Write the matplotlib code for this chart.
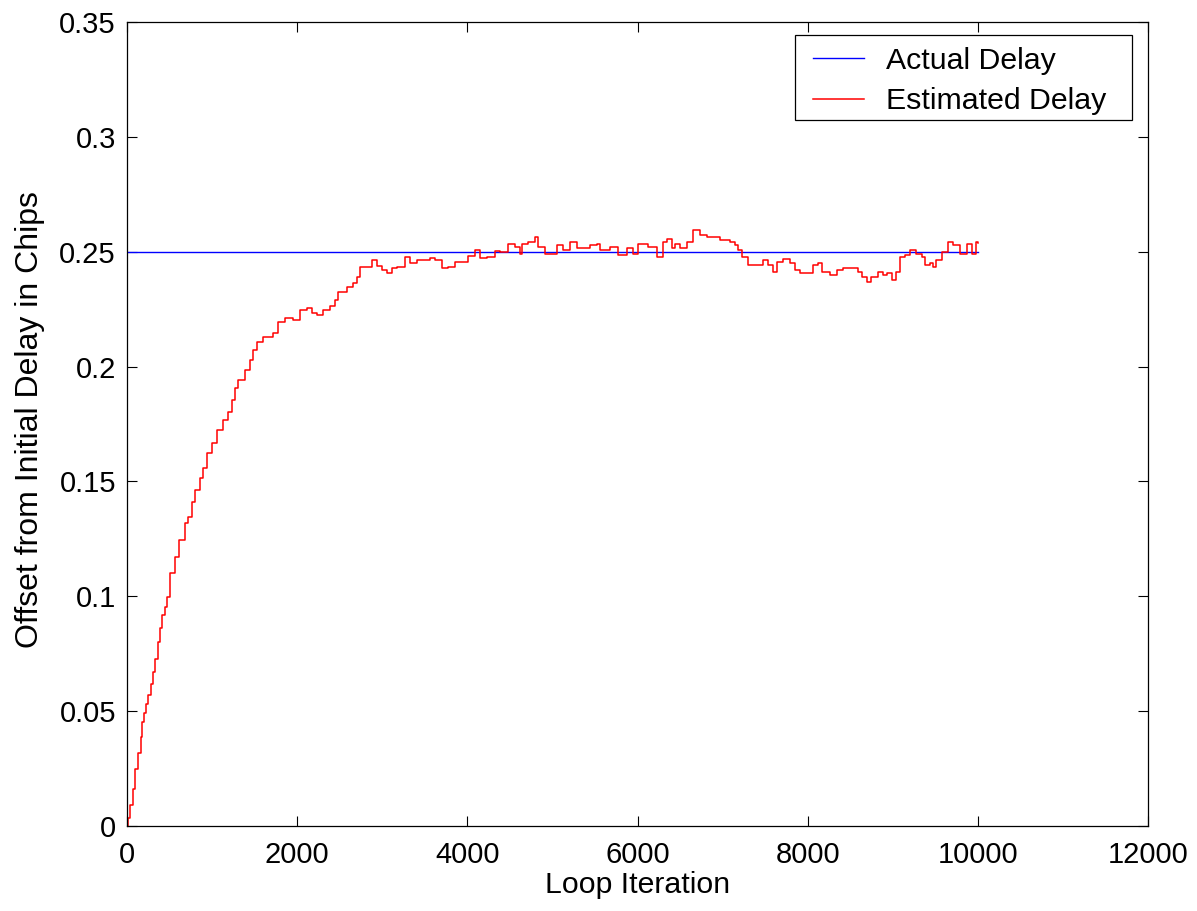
import matplotlib
matplotlib.use("Agg")
import matplotlib.pyplot as plt
from matplotlib.patches import Rectangle

plt.rcParams['font.family'] = ['Liberation Sans', 'DejaVu Sans']

# Tracking loop output: iteration index and estimated delay offset (chips)
iterations = [
    0, 15, 35, 74, 94, 133, 161, 172, 200, 223, 250, 278, 309, 329, 368, 388, 408, 447,
    466, 505, 564, 615, 682, 721, 760, 799, 858, 889, 936, 995, 1054, 1132, 1191, 1230,
    1269, 1308, 1387, 1445, 1477, 1524, 1602, 1650, 1719, 1778, 1857, 1954, 2033, 2111,
    2170, 2229, 2307, 2385, 2444, 2483, 2581, 2659, 2699, 2738, 2816, 2882, 2934, 2993,
    3052, 3110, 3169, 3267, 3326, 3404, 3482, 3561, 3619, 3698, 3776, 3854, 3952, 4011,
    4089, 4148, 4227, 4324, 4383, 4422, 4481, 4559, 4618, 4638, 4716, 4794, 4833, 4912,
    5010, 5049, 5127, 5206, 5284, 5362, 5441, 5519, 5558, 5676, 5774, 5872, 5950, 6009,
    6126, 6224, 6302, 6342, 6400, 6439, 6498, 6577, 6655, 6733, 6812, 6890, 6968, 7086,
    7145, 7184, 7223, 7301, 7380, 7478, 7536, 7595, 7634, 7712, 7791, 7850, 7908, 8006,
    8065, 8124, 8163, 8261, 8339, 8417, 8496, 8593, 8633, 8692, 8750, 8828, 8887, 8927,
    8986, 9044, 9083, 9142, 9201, 9279, 9338, 9377, 9436, 9475, 9514, 9573, 9651, 9710,
    9788, 9867, 9937, 9984, 10000,
]
estimated_delay = [
    0.0, 0.0033, 0.009, 0.0163, 0.025, 0.0316, 0.0388, 0.0453, 0.049, 0.0533, 0.057, 0.062,
    0.0671, 0.0729, 0.0802, 0.086, 0.0919, 0.0955,
    0.0998, 0.110, 0.117, 0.1245, 0.1318, 0.1347, 0.1411, 0.1463, 0.1514, 0.1557, 0.1622,
    0.1666, 0.1724, 0.1768, 0.1804, 0.1855, 0.1905, 0.1942, 0.1985, 0.2029, 0.2072, 0.2108,
    0.2130, 0.2127, 0.2146, 0.2195, 0.2210, 0.2203, 0.2246, 0.2254, 0.2233, 0.2225, 0.2246,
    0.2264, 0.2290, 0.2326, 0.2347, 0.2362, 0.2391, 0.2432, 0.2434, 0.2464, 0.2438, 0.2421,
    0.2409, 0.2428, 0.2432, 0.2476, 0.2450, 0.2464, 0.2464, 0.2471, 0.2464, 0.2428, 0.2432,
    0.2456, 0.2456, 0.2481, 0.2507, 0.2471, 0.2476, 0.2504, 0.2499, 0.2499, 0.2535, 0.2521,
    0.2492, 0.2535, 0.2543, 0.2565, 0.2521, 0.2492, 0.2492, 0.2528, 0.2507, 0.2543, 0.2514,
    0.2514, 0.2528, 0.2535, 0.2507, 0.2521, 0.2485, 0.2514, 0.2492, 0.2535, 0.2521, 0.2478,
    0.2543, 0.2557, 0.2514, 0.2535, 0.2514, 0.2543, 0.2594, 0.2572, 0.2565, 0.2565, 0.2551,
    0.2543, 0.2528, 0.2507, 0.2478, 0.2442, 0.2442, 0.2464, 0.2442, 0.2413, 0.2456, 0.2467,
    0.2450, 0.2421, 0.2406, 0.2406, 0.2442, 0.2450, 0.2413, 0.2399, 0.2421, 0.2428, 0.2428,
    0.2413, 0.2391, 0.2369, 0.2391, 0.2413, 0.2399, 0.2406, 0.2377, 0.2413, 0.2478, 0.2485,
    0.2507, 0.2492, 0.2478, 0.2442, 0.2450, 0.2435, 0.2464, 0.2499, 0.2543, 0.2528, 0.2492,
    0.2535, 0.2492, 0.2543, 0.2538,
]
actual_x = [0, 10000]
actual_delay = [0.25, 0.25]

x_ticks = [0, 2000, 4000, 6000, 8000, 10000, 12000]
y_ticks = [0, 0.05, 0.1, 0.15, 0.2, 0.25, 0.3, 0.35]
y_tick_labels = ['0', '0.05', '0.1', '0.15', '0.2', '0.25', '0.3', '0.35']

W, H = 1197, 911
fig = plt.figure(figsize=(W / 100, H / 100), dpi=100)
ax = fig.add_axes([127 / W, 85 / H, 1021 / W, 804 / H])

ax.plot(actual_x, actual_delay, color='#0000ff', linewidth=1.0, label='Actual Delay')
ax.plot(iterations, estimated_delay, color='#ff0000', linewidth=1.1,
        drawstyle='steps-post', label='Estimated Delay')

ax.set_xlim(0, 12000)
ax.set_ylim(0, 0.35)
ax.set_xticks(x_ticks)
ax.set_xticklabels([str(t) for t in x_ticks])
ax.set_yticks(y_ticks)
ax.set_yticklabels(y_tick_labels)

ax.tick_params(direction='in', length=7.2, width=0.8, labelsize=21,
               top=True, right=True, pad=8)
ax.tick_params(axis='x', pad=10.5)
for sp in ax.spines.values():
    sp.set_linewidth(0.9)

ax.set_xlabel('Loop Iteration', fontsize=21.8, labelpad=2)
ax.set_ylabel('Offset from Initial Delay in Chips', fontsize=23, labelpad=9)
ax.yaxis.set_label_coords(-0.080, 0.506)

# Legend entries without their own frame; the box is drawn separately
leg = ax.legend(loc='upper left', bbox_to_anchor=(813 / W, 1 - 47 / H),
                bbox_transform=fig.transFigure, fontsize=21.8, frameon=False,
                handlelength=1.7, handletextpad=0.72, labelspacing=0.4,
                borderpad=0, borderaxespad=0)
box = Rectangle((795 / W, 1 - 120 / H), (1132 - 795) / W, (120 - 35) / H,
                transform=fig.transFigure, facecolor='white', edgecolor='black',
                linewidth=0.9, zorder=4)
ax.add_artist(box)
box.set_clip_on(False)
leg.set_zorder(5)

fig.savefig('out.png', dpi=100)
